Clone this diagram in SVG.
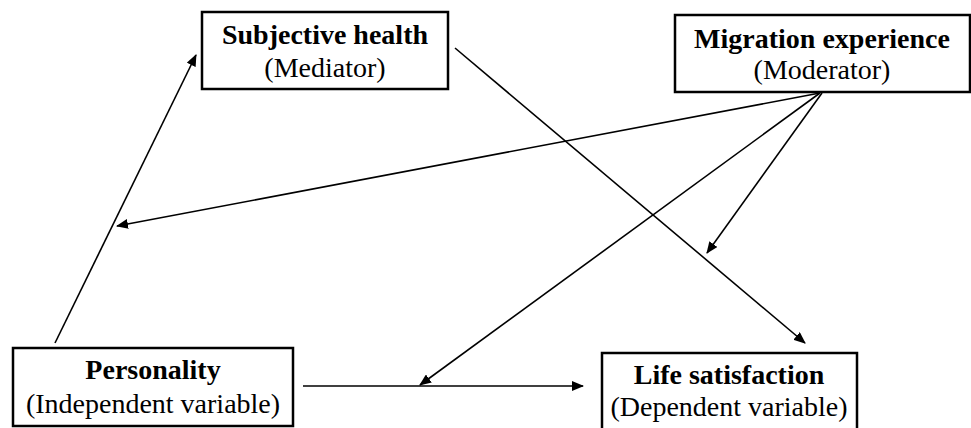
<svg xmlns="http://www.w3.org/2000/svg" width="971" height="428" viewBox="0 0 971 428">
<style>
.box{fill:#fff;stroke:#000;stroke-width:2.5}
.t{font-family:"Liberation Serif","Times New Roman",serif;font-size:28px;text-anchor:middle;fill:#000}
.b{font-weight:bold}
.c{stroke:#000;stroke-width:1.6;fill:none;marker-end:url(#ah)}
</style>
<defs>
<marker id="ah" viewBox="0 0 12 10" refX="11" refY="5" markerWidth="12" markerHeight="10" markerUnits="userSpaceOnUse" orient="auto">
<path d="M0,0 L12,5 L0,10 Z" fill="#000"/>
</marker>
</defs>
<rect width="971" height="428" fill="#fff"/>
<g id="connectors">
<line class="c" x1="55" y1="343" x2="196" y2="55"/>
<line class="c" x1="455" y1="48" x2="805" y2="343"/>
<line class="c" x1="820" y1="93" x2="117" y2="226"/>
<line class="c" x1="822" y1="93" x2="707" y2="253"/>
<line class="c" x1="820" y1="93" x2="420" y2="385"/>
<line class="c" x1="303" y1="386" x2="583" y2="386"/>
</g>
<g id="subjective-health">
<rect class="box" x="202" y="12" width="246" height="77"/>
<text class="t b" x="325" y="44">Subjective health</text>
<text class="t" x="325" y="77">(Mediator)</text>
</g>
<g id="migration-experience">
<rect class="box" x="675" y="15" width="295" height="77"/>
<text class="t b" x="822" y="48">Migration experience</text>
<text class="t" x="822" y="79">(Moderator)</text>
</g>
<g id="personality">
<rect class="box" x="13" y="348" width="280" height="78"/>
<text class="t b" x="153" y="379">Personality</text>
<text class="t" x="153" y="413">(Independent variable)</text>
</g>
<g id="life-satisfaction">
<rect class="box" x="602" y="353" width="255" height="80"/>
<text class="t b" x="729" y="384">Life satisfaction</text>
<text class="t" x="729" y="416">(Dependent variable)</text>
</g>
</svg>
